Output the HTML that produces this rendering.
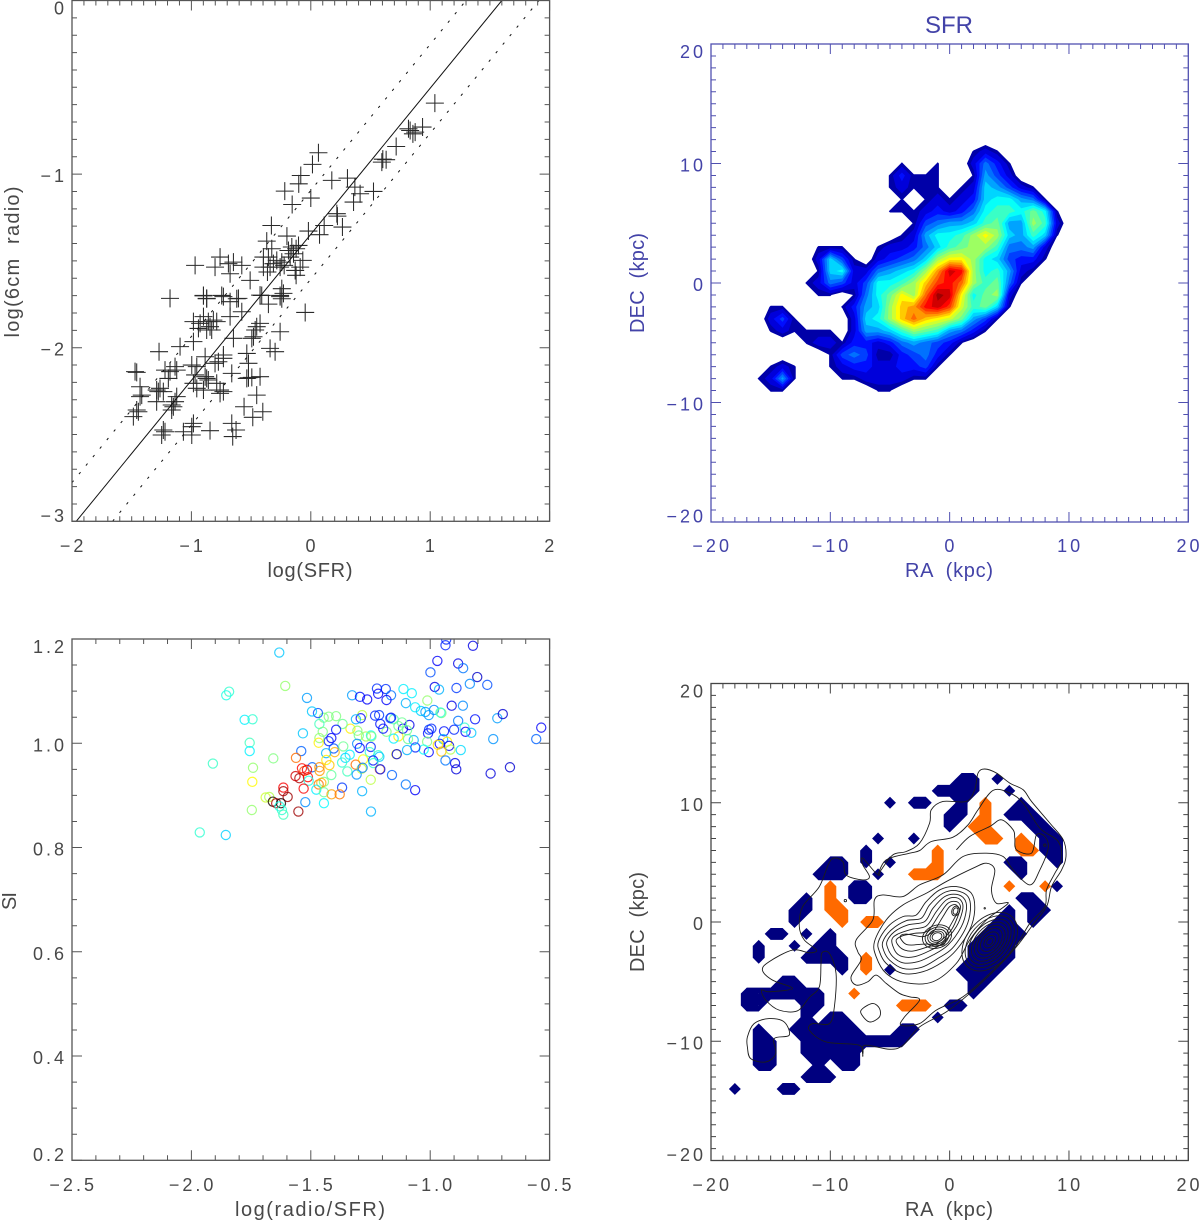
<!DOCTYPE html>
<html lang="en">
<head>
<meta charset="utf-8">
<title>SFR and radio continuum panels</title>
<style>
html,body{margin:0;padding:0;background:#fff;}
svg{display:block;}
text{font-family:"Liberation Sans",sans-serif;white-space:pre;}
.tick{font-size:18px;letter-spacing:3px;fill:#484848;}
.title{font-size:20px;fill:#484848;}
.blue{fill:#4343a8;}
</style>
</head>
<body>
<svg id="figure" xmlns="http://www.w3.org/2000/svg" width="1200" height="1222" viewBox="0 0 1200 1222">
  <defs>
    <clipPath id="clip1"><rect x="72" y="0.5" width="477.6" height="520.8"/></clipPath>
    <clipPath id="clip3"><rect x="72" y="639" width="477.6" height="521.3"/></clipPath>
  </defs>
  <rect width="1200" height="1222" fill="#fff"/>
  <g id="p1"></g>
  <g id="p2"></g>
  <g id="p3"></g>
  <g id="p4"></g>
  <text class="title" x="310" y="577" text-anchor="middle" textLength="85" lengthAdjust="spacing">log(SFR)</text>
  <text class="title" transform="rotate(-90 19 262)" x="19" y="262" text-anchor="middle" textLength="151" lengthAdjust="spacing">log(6cm  radio)</text>
  <text x="949" y="33" text-anchor="middle" font-size="24" fill="#4343a8">SFR</text>
  <text class="title blue" x="949" y="577" text-anchor="middle" textLength="88" lengthAdjust="spacing">RA  (kpc)</text>
  <text class="title blue" transform="rotate(-90 644 283)" x="644" y="283" text-anchor="middle" textLength="100" lengthAdjust="spacing">DEC  (kpc)</text>
  <text class="title" x="310" y="1216" text-anchor="middle" textLength="150" lengthAdjust="spacing">log(radio/SFR)</text>
  <text class="title" transform="rotate(-90 16 901)" x="16" y="901" text-anchor="middle" textLength="18" lengthAdjust="spacing">SI</text>
  <text class="title" x="949" y="1216" text-anchor="middle" textLength="88" lengthAdjust="spacing">RA  (kpc)</text>
  <text class="title" transform="rotate(-90 644 922)" x="644" y="922" text-anchor="middle" textLength="100" lengthAdjust="spacing">DEC  (kpc)</text>
</svg>
<script>
/* ---------- Panel 1 data ---------- */
const logSfr=[1.039,.936,.874,.832,.855,.818,.715,.631,.595,.603,.064,.014,-.084,-.101,-.218,0,-.156,.176,.307,.369,.413,.525,.358,.218,.223,.265,.112,-.02,.073,-.33,-.2,-.369,-.327,-.123,-.159,-.067,-.145,-.355,-.397,-.313,-.243,-.223,-.363,-.123,-.131,-.508,-.676,-.76,-.802,-.648,-.969,-.578,-.243,-.257,-.243,-.411,-.62,-.746,-.899,-.872,-1.179,-.899,-.872,-.732,-.676,-.606,-.425,-.257,-.229,-.355,-.047,-.983,-.899,-.816,-.844,-.872,-.941,-.578,-.676,-.453,-.425,-.48,-.257,-.648,-.983,-1.095,-1.271,-.299,-.341,-.732,-.802,-.885,-.997,-1.137,-1.221,-1.458,-.536,-.522,-.522,-.425,-.662,-.872,-.969,-1.193,-1.263,-1.291,-1.43,-1.416,-1.444,-1.486,-1.151,-1.165,-.983,-.899,-.76,-.732,-.453,-.559,-.486,-.402,-.662,-.626,-.654,-.844,-.983,-.997,-1.067,-1.221,-1.249,-1.123,-1.291,-.788,-.955,-.173,-.285,-.341,-.089,-.187,-.103,-.397,-.257,-.69,-.858,-.927,-.83,-.788,-.466,-.494,-.774,-.732,-.955,-1.123,-1.179,-.536,-.494,-.858,-.885,-1.277,-1.235,-1.165,-1.137,-1.458,-1.235,-.997,-.76,-1.472,-1.43];
const logRadio=[-.591,-.729,-.758,-.749,-.768,-.739,-.841,-.917,-.931,-.914,-.877,-.944,-1.008,-1.056,-1.098,-1.138,-1.175,-1.036,-1.023,-1.075,-1.113,-1.1,-1.161,-1.228,-1.242,-1.305,-1.296,-1.328,-1.349,-1.296,-1.357,-1.386,-1.43,-1.43,-1.42,-1.497,-1.459,-1.478,-1.478,-1.516,-1.507,-1.526,-1.564,-1.583,-1.555,-1.612,-1.574,-1.478,-1.536,-1.507,-1.526,-1.526,-1.66,-1.699,-1.718,-1.699,-1.718,-1.699,-1.699,-1.718,-1.716,-1.701,-1.716,-1.706,-1.735,-1.716,-1.697,-1.706,-1.687,-1.749,-1.797,-1.85,-1.821,-1.841,-1.879,-1.898,-1.889,-1.793,-1.821,-1.879,-1.86,-1.937,-1.908,-1.946,-1.965,-1.994,-2.023,-2.023,-2.004,-2.061,-2.09,-2.052,-2.1,-2.109,-2.129,-2.142,-2.033,-2.09,-2.173,-2.167,-2.148,-2.177,-2.157,-2.177,-2.234,-2.244,-2.225,-2.273,-2.369,-2.397,-2.34,-2.359,-2.205,-2.244,-2.263,-2.253,-2.273,-2.34,-2.401,-2.369,-2.436,-2.474,-2.512,-2.478,-2.436,-2.503,-2.484,-2.484,-2.503,-2.282,-2.311,-2.205,-2.234,-1.478,-1.497,-1.536,-1.536,-1.44,-1.411,-1.536,-1.536,-1.516,-1.85,-1.86,-1.898,-1.85,-1.898,-1.946,-2.081,-2.042,-2.109,-2.129,-2.138,-2.177,-2.171,-2.186,-2.167,-2.253,-2.253,-2.33,-2.311,-2.359,-2.474,-2.455,-2.244,-2.138,-2.282];
const fitLineSfr=[-2,1.6];
const fitLineRadio=[-3.03,0];
const upperLineSfr=[-2,1.3];
const upperLineRadio=[-2.777,0];
const lowerLineSfr=[-1.66,1.91];
const lowerLineRadio=[-3,0];
const p1XLabels=['\u22122','\u22121','0','1','2'];
const p1YLabels=['\u22123','\u22122','\u22121','0'];

/* ---------- Panel 2 data: SFR level per 1 kpc cell, base-36 digit, RA -16..9, DEC 11..-9 ---------- */
const sfrRows=[
"00000000000000000012100000",
"00000000000010010025310000",
"00000000000131110016420000",
"00000000000121110127642100",
"00000000000010121237886510",
"00000000000111232358998a81",
"00000000000001456679a66b92",
"000000000000126889bdb76971",
"00000111001223579abb955620",
"000002741023457bddb8743310",
"00000178225678bfjib8962100",
"0000125424889behigb9a51000",
"00000110158adbgkjd8ab20000",
"01100001367befijhc9a710000",
"02410000278begedca64100000",
"0121111026679ba96531000000",
"00001221332356543100000000",
"00000014541134531000000000",
"01210012332233410000000000",
"12610001122221100000000000",
"01100000001100000000000000"];
const sfrRaStart=-16;
const sfrDecStart=11;
const sfrLevels=[.9,1.5,2.5,3.5,4.5,5.5,6.5,7.5,8.5,9.5,10.5,11.5,12.5,13.5,14.5,15.5,16.5,17.5,18.5,19.5];
const kpcXLabels=['\u221220','\u221210','0','10','20'];
const kpcYLabels=['\u221220','\u221210','0','10','20'];

/* ---------- Panel 3 data ---------- */
const siRatio=[-1.632,-1.607,-1.842,-1.854,-1.777,-1.744,-1.756,-1.756,-1.657,-1.91,-1.742,-1.745,-1.747,-1.965,-1.856,-1.516,-1.327,-1.294,-1.264,-1.223,-1.186,-1.218,-1.164,-1.183,-1.112,-1.077,-1.102,-1.063,-1.012,-1.039,-1.02,-1.006,-.984,-.953,-.957,-.999,-.97,-.883,-.862,-.936,-.821,-.803,-.981,-.963,-.89,-.834,-.761,-.91,-.863,-.883,-.812,-.719,-.696,-.535,-.556,-.736,-.856,-.9,-.942,-.852,-.828,-.995,-1.005,-1.009,-.946,-.929,-.96,-.968,-.921,-.915,-.953,-.872,-1.006,-1.013,-1.027,-1.062,-1.097,-1.069,-1.093,-1.133,-1.153,-1.114,-1.087,-1.097,-1.133,-1.118,-1.153,-1.164,-1.167,-1.183,-1.197,-1.209,-1.214,-1.231,-1.285,-1.291,-1.311,-1.334,-1.305,-1.299,-1.248,-1.269,-1.246,-1.394,-1.425,-1.446,-1.47,-1.495,-1.464,-1.367,-1.394,-1.45,-1.533,-1.414,-1.425,-1.464,-1.467,-1.306,-1.295,-1.249,-1.253,-1.404,-1.4,-1.364,-1.436,-1.54,-1.562,-1.337,-1.355,-1.435,-1.281,-1.217,-1.213,-1.142,-1.14,-1.369,-1.239,-1.238,-1.422,-1.312,-1.494,-1.464,-1.537,-1.527,-1.516,-1.463,-1.347,-1.287,-1.283,-1.211,-1.209,-1.16,-1.308,-1.414,-1.564,-1.548,-1.512,-1.509,-1.249,-1.102,-1.063,-1.369,-1.445,-1.467,-1.456,-1.53,-1.615,-1.615,-1.597,-1.477,-1.445,-1.285,-1.413,-1.379,-1.523,-1.445,-1.248,-1.552,-1.689,-1.674,-1.659,-1.645,-1.625,-1.631,-1.621,-1.615,-.747,-.666,-.896,-.891,-.936,-.933];
const siValue=[1.174,1.11,1.099,1.092,1.045,1.046,1.001,.985,.971,.961,.953,.926,.872,.829,.824,1.087,1.092,1.089,1.084,1.105,1.104,1.095,1.092,1.083,1.104,1.096,1.077,1.069,1.082,1.062,1.06,1.054,1.064,1.058,1.059,1.136,1.158,1.153,1.144,1.188,1.187,1.127,1.108,1.103,1.106,1.114,1.112,1.072,1.072,1.043,1.046,1.048,1.056,1.03,1.008,1.008,1.03,1.026,1.023,1.022,1.02,1.028,1.026,1.019,1.008,1.003,.999,.997,.995,.988,.984,.987,.983,1.003,.988,.992,.987,1.006,1.008,1.013,1.009,1.028,1.035,1.025,1.033,1.04,1.046,1.049,1.048,1.022,1.028,1.037,1.054,1.053,1.054,1.048,1.046,1.028,1.024,1.015,1.015,1.013,1.013,1.052,1.051,1.049,1.058,1.061,1.037,1.037,1.026,1.022,1.019,1.01,1.004,1.01,1.001,.999,.991,.993,.983,.99,.983,.994,.981,.985,.972,.978,.972,.968,.969,.977,.974,.979,.979,.963,.967,.962,.958,.959,.954,.954,.952,.947,.949,.947,.946,.951,.953,.95,.95,.939,.94,.939,.937,.933,.935,.928,.93,.921,.91,.915,.926,.921,.924,.913,.915,.908,.897,.911,.906,.908,.902,.902,.887,.885,.869,.869,.896,.897,.888,.885,.885,.879,.872,.863,.942,.954,.962,.95,.967,1.199];
const siColorValue=[.32,.52,.42,.4,.36,.42,.44,.36,.5,.43,.52,.63,.52,.42,.33,.28,.28,.14,.12,.17,.17,.12,.24,.12,.36,.36,.3,.36,.52,.33,.28,.28,.26,.5,.42,.2,.12,.1,.24,.16,.1,.07,.1,.3,.18,.26,.2,.1,.26,.24,.14,.28,.08,.12,.22,.27,.42,.16,.14,.12,.32,.16,.18,.14,.3,.64,.13,.65,.1,.55,.68,.34,.13,.5,.38,.16,.3,.3,.48,.64,.36,.12,.1,.48,.48,.48,.46,.12,.2,.5,.14,.14,.18,.16,.56,.13,.3,.64,.52,.48,.38,.54,.5,.5,.5,.5,.2,.32,.44,.48,.14,.5,.32,.12,.16,.52,.64,.26,.13,.16,.42,.2,.7,.48,.3,.22,.77,.36,.34,.64,.62,.42,.32,.62,.1,.42,.14,.42,.68,.77,.22,.74,.87,.8,.9,.72,.44,.56,.24,.75,.14,.22,.27,.47,.92,.95,.87,.4,.56,.24,.12,.18,.5,.76,.7,.88,.88,.96,.97,.36,.48,.3,.72,.76,.26,.37,.3,.97,.58,.55,1.1,.95,1.1,.4,.42,.44,.09,.08,.1,.09,.24,.16];
const p3XLabels=['\u22122.5','\u22122.0','\u22121.5','\u22121.0','\u22120.5'];
const p3YLabels=['0.2','0.4','0.6','0.8','1.0','1.2'];

/* ---------- Panel 4 data: b = low-SI mask, o = high-SI mask, RA -18..10, DEC 12..-14 ---------- */
const maskRows=[
"...................bb.b......",
".................bbbb..b.....",
".............b.bb..b.o..b....",
"..................bb.o.bbb...",
"..................b.oo...bb..",
"............b..b.....oo.o.bb.",
"...........b.....o......oobb.",
"........bb.b.b...o.....bb..b.",
".......bbb..b..ooo......b....",
"........o.bb...........o..ob.",
"......b.o.bb............bb...",
".....bb.oo.............b.bb..",
".....b...o.oo.........bb.b...",
"...bb.b.b............bbbb....",
"..b..b.bb...........bbbb.....",
"..b...bbbb.o........bbbb.....",
".........b.o.b.....bbbb......",
"....bb..............bb.......",
".bbbbbbb..o.........b........",
".bb...bb......ooo.bb.........",
"......b.bb.......b...........",
"..b..bbbbbb...bb.............",
"..bb..bbbbbbbbb..............",
"..bb..bbbbb..................",
"..bb...b.bb..................",
"......bbb....................",
"b...bb......................."];
const maskRaStart=-18;
const maskDecStart=12;

const contourOuter=[[2.94,12.83],[2.38,12.49],[2.1,11.09],[1.4,10.11],[-.56,10.11],[-1.54,9.41],[-1.68,8.29],[-2.52,6.61],[-3.64,5.91],[-4.76,5.63],[-5.74,4.37],[-6.02,3.95],[-7.28,5.35],[-7.28,4.79],[-6.72,3.81],[-7.28,3.53],[-8.68,3.95],[-8.96,5.07],[-9.94,5.21],[-10.92,2.97],[-12.32,1.29],[-12.6,-.39],[-12.18,-1.51],[-11.15,-2.35],[-11.76,-2.58],[-13.17,-2.35],[-15.13,-3.33],[-15.69,-4.03],[-14.85,-4.87],[-13.17,-5.57],[-15.13,-5.85],[-15.77,-5.71],[-15.41,-6.55],[-14.29,-7.39],[-12.75,-7.45],[-11.76,-6.33],[-10.92,-5.43],[-10.78,-3.47],[-10.7,-2.58],[-10.08,-2.63],[-9.52,-4.31],[-9.66,-7.11],[-10.08,-8.52],[-11.48,-8.52],[-11.76,-9.08],[-10.36,-10.06],[-7.56,-10.34],[-7.28,-11.26],[-7.14,-10.34],[-5.04,-10.67],[-3.92,-10.34],[-2.52,-8.8],[-.28,-7.54],[1.68,-5.99],[3.92,-3.89],[5.6,-2.07],[6.86,-.39],[8.12,1.29],[8.54,2.97],[9.38,4.37],[9.75,5.49],[9.52,6.89],[8.4,8.29],[6.86,10.11],[6.16,11.09],[5.04,11.65],[3.92,12.49]];
const contourLoopWest=[[-16.95,-9.64],[-16.39,-8.52],[-15.13,-8.1],[-13.87,-8.38],[-13.45,-9.5],[-14.71,-9.78],[-14.57,-11.04],[-15.41,-11.74],[-16.67,-11.46],[-16.95,-10.48]];
const contourLoopSouth=[[-7.28,-7.25],[-6.44,-6.83],[-5.88,-7.25],[-5.88,-7.96],[-6.72,-8.38],[-7.42,-7.68]];
const contourRibbon=[[-6.02,3.95],[-5.32,5.21],[-3.36,5.77],[-2.52,5.99],[-1.54,6.75],[.28,7.11],[1.54,8.15],[2.38,9.41],[3.64,11.04],[5.04,10.81],[6.16,9.97],[7.56,7.87],[9.1,6.75],[9.38,5.21],[8.82,4.09],[8.12,2.69],[7.98,1.29],[6.72,-.11],[5.32,-2.35],[3.36,-4.31],[1.12,-6.27],[-1.12,-7.39],[-2.52,-8.52],[-4.06,-8.66],[-3.78,-7.96],[-2.52,-6.55],[-3.36,-6.27],[-4.2,-5.99],[-5.32,-5.15],[-6.16,-4.45],[-6.86,-5.01],[-7.84,-5.29],[-8.26,-4.59],[-7.42,-3.19],[-7.7,-2.49],[-7.84,-1.51],[-6.44,.17],[-6.3,1.85],[-5.6,2.27],[-3.92,2.13],[-2.52,3.11],[-.56,3.95],[1.12,5.49],[3.08,5.77],[4.48,5.49],[5.32,4.37],[6.72,3.11],[7.56,4.37],[8.26,6.19],[7.98,7.17],[7.28,7.31],[6.86,5.77],[5.6,6.05],[5.46,7.03],[5.32,7.73],[4.34,8.57],[3.36,8.01],[1.68,7.17],[.56,6.05]];
const contourEnvelope=[[-6.3,-1.65],[-6.16,-2.91],[-5.32,-4.31],[-3.64,-5.1],[-1.4,-5.01],[.56,-3.47],[1.68,-1.51],[3.08,.17],[4.9,1.57],[3.92,1.57],[3.5,2.69],[3.78,4.37],[3.08,4.93],[1.96,4.51],[-.28,3.39],[-1.96,2.41],[-3.92,1.43],[-5.32,.17]];
const contourPeanut1=[[-5.97,-1.65],[-5.18,-.39],[-3.92,.45],[-2.8,.59],[-1.96,1.71],[-.84,2.69],[.56,2.97],[1.82,2.41],[2.1,1.01],[1.68,-.67],[.56,-2.35],[-.56,-3.33],[-2.24,-4.17],[-3.92,-4.31],[-5.32,-3.47],[-5.88,-2.49]];
const contourPeanut2=[[-5.6,-1.65],[-4.9,-.67],[-3.64,.11],[-2.38,.31],[-1.68,1.43],[-.56,2.41],[.56,2.63],[1.54,2.13],[1.74,1.01],[1.34,-.53],[.22,-2.21],[-.98,-3.05],[-2.38,-3.81],[-3.92,-3.89],[-5.04,-3.19],[-5.52,-2.41]];
const contourPeanut3=[[-5.24,-1.6],[-4.62,-.81],[-3.5,-.25],[-2.1,.03],[-1.4,1.15],[-.42,2.13],[.56,2.32],[1.26,1.9],[1.4,1.01],[.98,-.39],[-.14,-1.93],[-1.4,-2.77],[-2.66,-3.33],[-3.92,-3.42],[-4.76,-2.91],[-5.18,-2.21]];
const contourPeanut4=[[-4.85,-1.51],[-4.34,-1.01],[-3.22,-.62],[-1.96,-.34],[-1.12,.87],[-.28,1.85],[.56,2.04],[1.06,1.62],[1.06,.87],[.56,-.39],[-.56,-1.74],[-1.68,-2.41],[-2.94,-2.91],[-3.92,-2.91],[-4.54,-2.49]];
const contourPeanut5=[[-4.48,-1.51],[-3.92,-1.15],[-2.94,-.95],[-1.82,-.73],[-.84,.67],[-.14,1.57],[.56,1.71],[.9,1.34],[.78,.73],[.14,-.67],[-.98,-1.74],[-1.96,-2.13],[-3.08,-2.44],[-3.78,-2.35],[-4.26,-2.02]];
const contourPeanut6=[[-4.15,-1.23],[-3.64,-1.01],[-2.38,-1.23],[-1.82,-1.09],[-1.26,-.67],[-.56,.45],[0,1.29],[.56,1.43],[.67,.87],[-.14,-.67],[-.28,-1.23],[-.56,-1.93],[-1.96,-1.85],[-3.22,-1.93],[-3.78,-1.79]];
const openContours=[contourRibbon];
const closedContours=[contourOuter,contourLoopWest,contourLoopSouth,contourEnvelope,contourPeanut1,contourPeanut2,contourPeanut3,contourPeanut4,contourPeanut5,contourPeanut6];
const ringRa=[3.36,3.36,3.36,3.36,3.36,3.36,3.36,3.36,3.36,.5,.5,-1.06,-1.06,-1.06,-1.06,-1.06,-8.74,2.94,7.98];
const ringDec=[-1.65,-1.65,-1.65,-1.65,-1.65,-1.65,-1.65,-1.65,-1.65,.92,.92,-1.23,-1.23,-1.23,-1.23,-1.23,1.79,1.15,6.44];
const ringMajor=[.3,.6,.95,1.3,1.6,1.9,2.2,2.5,2.8,.28,.42,.42,.6,.8,1.02,1.25,.1,.06,.1];
const ringMinor=[.22,.4,.62,.82,1,1.2,1.4,1.65,1.9,.2,.32,.32,.45,.6,.78,.95,.1,.06,.1];
const ringAngle=[49,49,49,49,49,49,49,49,49,70,70,20,20,20,20,20,0,0,0];

/* ---------- Helpers ---------- */
const NS='http://www.w3.org/2000/svg';
function make(tag,parent,attrs){
  const e=document.createElementNS(NS,tag);
  for(const k in attrs){e.setAttribute(k,attrs[k]);}
  parent.appendChild(e);
  return e;
}
function scale(d0,d1,r0,r1){return v=>r0+(v-d0)*(r1-r0)/(d1-d0);}
function jet(t){
  const c=v=>Math.round(255*Math.max(0,Math.min(1,v)));
  return 'rgb('+c(1.5-Math.abs(4*t-3))+','+c(1.5-Math.abs(4*t-2))+','+c(1.5-Math.abs(4*t-1))+')';
}
function drawAxes(g,cfg){
  const {x,y,left,right,top,bottom,color,xMin,xStep,xCount,xEvery,yMin,yStep,yCount,yEvery,xLabels,yLabels,xBase,yEnd,fill}=cfg;
  const frame=make('rect',g,{x:left,y:top,width:right-left,height:bottom-top,fill:'none',stroke:color,'stroke-width':1.3});
  
  
  let d='';
  for(let n=0;n<=xCount;n++){
    const len=n%xEvery===0?10:5;
    const px=x(xMin+n*xStep).toFixed(2);
    d+='M'+px+' '+bottom+'v'+(-len)+'M'+px+' '+top+'v'+len;
  }
  for(let n=0;n<=yCount;n++){
    const len=n%yEvery===0?10:5;
    const py=y(yMin+n*yStep).toFixed(2);
    d+='M'+left+' '+py+'h'+len+'M'+right+' '+py+'h'+(-len);
  }
  const ticks=make('path',g,{d:d,fill:'none',stroke:color,'stroke-width':1});
  
  
  xLabels.forEach((s,i)=>{
    const t=make('text',g,{x:x(xMin+i*xStep*xEvery)+1.2,y:xBase,'text-anchor':'middle',class:'tick',style:'fill:'+fill});
    t.textContent=s;
    
    
  });
  yLabels.forEach((s,i)=>{
    const py=y(yMin+i*yStep*yEvery);
    const off=i===0?0.7:(i===yLabels.length-1?14.2:8);
    const t=make('text',g,{x:yEnd,y:py+off,'text-anchor':'end',class:'tick',style:'fill:'+fill});
    t.textContent=s;
    
    
  });
}
/* Filled iso-region of a grid: marching squares with straight cell edges; saddles stay separate. */
function isoPath(values,level,xs,ys){
  const out=[];
  function poly(vs){
    const pts=[];
    const n=vs.length;
    for(let i=0;i<n;i++){
      const p=vs[i],q=vs[(i+1)%n];
      if(p[2]>=level){pts.push(p);}
      if((p[2]>=level)!==(q[2]>=level)){
        const f=(level-p[2])/(q[2]-p[2]);
        pts.push([p[0]+(q[0]-p[0])*f,p[1]+(q[1]-p[1])*f]);
      }
    }
    if(pts.length>2){
      out.push('M'+pts.map(p=>xs(p[0]).toFixed(2)+' '+ys(p[1]).toFixed(2)).join('L')+'Z');
    }
  }
  const H=values.length,W=values[0].length;
  const v=(jj,ii)=>(jj>=0&&jj<H&&ii>=0&&ii<W)?values[jj][ii]:0;
  for(let j=-1;j<H;j++){
    for(let i=-1;i<W;i++){
      const A=[i,j,v(j,i)],B=[i+1,j,v(j,i+1)],C=[i+1,j+1,v(j+1,i+1)],D=[i,j+1,v(j+1,i)];
      if(Math.max(A[2],B[2],C[2],D[2])<level){continue;}
      const a=A[2]>=level,b=B[2]>=level,c=C[2]>=level,e=D[2]>=level;
      if(a===c&&b===e&&a!==b){
        if(a){poly([A,B,D]);poly([C,D,B]);}
        else{poly([B,C,A]);poly([D,A,C]);}
      }else{
        poly([A,B,C,D]);
      }
    }
  }
  return out.join('');
}
function smooth(pts,closed,sx,sy){
  const P=pts.map(p=>[sx(p[0]),sy(p[1])]);
  const n=P.length;
  const at=i=>closed?P[(i+n)%n]:P[Math.max(0,Math.min(n-1,i))];
  let d='M'+P[0][0].toFixed(2)+' '+P[0][1].toFixed(2);
  const last=closed?n:n-1;
  for(let i=0;i<last;i++){
    const p0=at(i-1),p1=at(i),p2=at(i+1),p3=at(i+2);
    d+='C'+(p1[0]+(p2[0]-p0[0])/6).toFixed(2)+' '+(p1[1]+(p2[1]-p0[1])/6).toFixed(2)+' '+(p2[0]-(p3[0]-p1[0])/6).toFixed(2)+' '+(p2[1]-(p3[1]-p1[1])/6).toFixed(2)+' '+p2[0].toFixed(2)+' '+p2[1].toFixed(2);
  }
  return d+(closed?'Z':'');
}

/* ---------- Panel 1 ---------- */
(function(){
  const g=document.getElementById('p1');
  const x=scale(-2,2,72,549.6),y=scale(-3,0,521.3,0.5);
  const lines=[[fitLineSfr,fitLineRadio,'none','fit-line'],[upperLineSfr,upperLineRadio,'2.5 8.5','upper-scatter-line'],[lowerLineSfr,lowerLineRadio,'2.5 8.5','lower-scatter-line']];
  const cg=make('g',g,{'clip-path':'url(#clip1)'});
  
  
  logSfr.forEach((v,i)=>{
    const px=x(v),py=y(logRadio[i]);
    const c=make('path',cg,{d:'M'+(px-9).toFixed(2)+' '+py.toFixed(2)+'h18M'+px.toFixed(2)+' '+(py-9).toFixed(2)+'v18',stroke:'#2a2a2a','stroke-width':1.05,fill:'none'});
    
    
  });
  lines.forEach(L=>{
    const l=make('line',cg,{x1:x(L[0][0]),y1:y(L[1][0]),x2:x(L[0][1]),y2:y(L[1][1]),stroke:'#111','stroke-width':1,'stroke-dasharray':L[2]});
    
    
  });
  drawAxes(g,{x,y,left:72,right:549.6,top:0.5,bottom:521.3,color:'#555',xMin:-2,xStep:.1,xCount:40,xEvery:10,yMin:-3,yStep:.1,yCount:30,yEvery:10,xLabels:p1XLabels,yLabels:p1YLabels,xBase:552,yEnd:67,fill:'#484848'});
})();

/* ---------- Panel 2 ---------- */
(function(){
  const g=document.getElementById('p2');
  const x=scale(-20,20,711,1188.3),y=scale(-20,20,522,44);
  const vals=sfrRows.map(r=>r.split('').map(ch=>parseInt(ch,36)));
  const gx=i=>x(sfrRaStart+i),gy=j=>y(sfrDecStart-j);
  sfrLevels.forEach((lv,k)=>{
    const d=isoPath(vals,lv,gx,gy);
    if(!d){return;}
    const p=make('path',g,{d:d,fill:jet(.04+k*.0489),stroke:'none'});
    
    
  });
  drawAxes(g,{x,y,left:711,right:1188.3,top:44,bottom:522,color:'#5050b0',xMin:-20,xStep:1,xCount:40,xEvery:10,yMin:-20,yStep:1,yCount:40,yEvery:10,xLabels:kpcXLabels,yLabels:kpcYLabels,xBase:552,yEnd:706,fill:'#4343a8'});
})();

/* ---------- Panel 3 ---------- */
(function(){
  const g=document.getElementById('p3');
  const x=scale(-2.5,-.5,72,549.6),y=scale(.2,1.2,1160.3,639);
  const cg=make('g',g,{'clip-path':'url(#clip3)'});
  
  
  siRatio.forEach((v,i)=>{
    const c=make('circle',cg,{cx:x(v).toFixed(2),cy:y(siValue[i]).toFixed(2),r:4.6,fill:'none',stroke:jet(siColorValue[i]),'stroke-width':1.2,'stroke-opacity':.8});
    
    
  });
  drawAxes(g,{x,y,left:72,right:549.6,top:639,bottom:1160.3,color:'#555',xMin:-2.5,xStep:.1,xCount:20,xEvery:5,yMin:.2,yStep:.05,yCount:20,yEvery:4,xLabels:p3XLabels,yLabels:p3YLabels,xBase:1191,yEnd:67,fill:'#484848'});
})();

/* ---------- Panel 4 ---------- */
(function(){
  const g=document.getElementById('p4');
  const x=scale(-20,20,711,1188.3),y=scale(-20,20,1160.5,683.5);
  const gx=i=>x(maskRaStart+i),gy=j=>y(maskDecStart-j);
  [['b','#00007f','low-si-region'],['o','#ff6a00','high-si-region']].forEach(m=>{
    const vals=maskRows.map(r=>r.split('').map(ch=>ch===m[0]?1:0));
    const p=make('path',g,{d:isoPath(vals,.5,gx,gy),fill:m[1]});
    
    
  });
  closedContours.forEach(c=>{
    const p=make('path',g,{d:smooth(c,true,x,y),fill:'none',stroke:'#1c1c1c','stroke-width':.9});
    
    
  });
  openContours.forEach(c=>{
    const p=make('path',g,{d:smooth(c,false,x,y),fill:'none',stroke:'#1c1c1c','stroke-width':.9});
    
    
  });
  const unit=x(1)-x(0);
  ringRa.forEach((v,i)=>{
    const cx=x(v),cy=y(ringDec[i]);
    const e=make('ellipse',g,{cx:cx.toFixed(2),cy:cy.toFixed(2),rx:(ringMajor[i]*unit).toFixed(2),ry:(ringMinor[i]*unit).toFixed(2),transform:'rotate('+(-ringAngle[i])+' '+cx.toFixed(2)+' '+cy.toFixed(2)+')',fill:'none',stroke:'#1c1c1c','stroke-width':.9});
    
    
  });
  drawAxes(g,{x,y,left:711,right:1188.3,top:683.5,bottom:1160.5,color:'#444',xMin:-20,xStep:1,xCount:40,xEvery:10,yMin:-20,yStep:1,yCount:40,yEvery:10,xLabels:kpcXLabels,yLabels:kpcYLabels,xBase:1191,yEnd:706,fill:'#484848'});
})();
</script>
</body>
</html>
